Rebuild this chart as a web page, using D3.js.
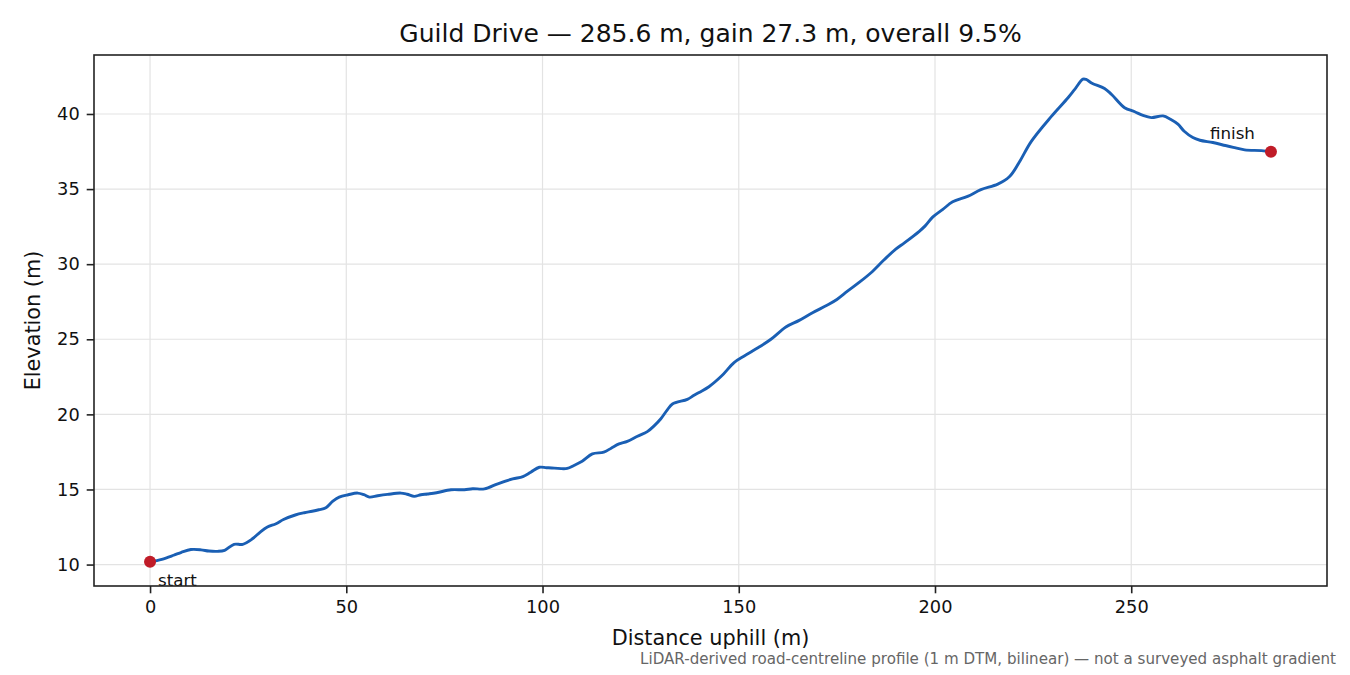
<!DOCTYPE html>
<html>
<head>
<meta charset="utf-8">
<script src="https://cdn.jsdelivr.net/npm/d3@7"></script>
<style>
  body { margin: 0; background: #fff; }
  svg { display: block; font-family: "DejaVu Sans", sans-serif; }
  .grid line { stroke: #e3e3e3; stroke-width: 1.2; }
  .axis path, .axis line { stroke: #222; }
  .axis text { fill: #111; }
</style>
</head>
<body>
<div id="chart"></div>
<script>
// distance along road (m) and elevation (m)
const distance = [
  0, 3, 6, 8, 10.4, 13, 15, 17.2, 19, 21.4, 23.6, 26, 28, 29.9, 32.1, 34, 37, 39.3, 41.3, 43,
  44.8, 46.5, 48.2, 50.5, 52.9, 54.5, 55.9, 58, 60.5, 63.9, 65.5, 67.3, 69, 70.7, 73, 76.7,
  80.1, 82.2, 85.2, 88.6, 92.4, 95, 97, 99.2, 101, 103, 106.3, 108, 110.1, 112.7, 115.6,
  117.5, 119.5, 121.6, 124.2, 126.7, 128.5, 130.1, 131.8, 133.1, 136.9, 138.5, 139.9, 142.4,
  145.6, 148.8, 151.4, 155, 158.2, 162, 165.4, 168.8, 172.6, 175, 177.7, 180.5, 183.7, 187.1,
  190, 192.2, 196, 197.5, 199.4, 202, 204.5, 208.3, 211.7, 216, 219, 221.5, 224.5, 229.6,
  233.9, 235.5, 237.7, 238.5, 240, 243.2, 245, 248.3, 250.9, 253, 255.1, 258.1, 260, 261.9,
  263.5, 265.7, 267.5, 270.8, 274, 276, 278.9, 283.2, 285.6
]
const elevation = [
  10.18, 10.35, 10.62, 10.82, 11.0, 10.98, 10.9, 10.88, 10.95, 11.35, 11.35, 11.7, 12.15, 12.5,
  12.72, 13.0, 13.3, 13.45, 13.55, 13.65, 13.78, 14.2, 14.49, 14.65, 14.76, 14.65, 14.49, 14.58,
  14.67, 14.76, 14.68, 14.54, 14.65, 14.7, 14.78, 14.98, 14.98, 15.05, 15.04, 15.38, 15.7, 15.86,
  16.15, 16.48, 16.45, 16.42, 16.4, 16.6, 16.88, 17.37, 17.48, 17.75, 18.03, 18.2, 18.54, 18.85,
  19.25, 19.69, 20.3, 20.69, 21.0, 21.25, 21.46, 21.84, 22.55, 23.45, 23.89, 24.45, 25.0, 25.82,
  26.26, 26.77, 27.28, 27.65, 28.2, 28.75, 29.43, 30.31, 31.0, 31.42, 32.19, 32.55, 33.13, 33.65,
  34.15, 34.51, 34.96, 35.33, 35.84, 36.8, 38.16, 39.82, 41.08, 41.6, 42.32, 42.3, 42.05, 41.7,
  41.3, 40.42, 40.15, 39.9, 39.76, 39.87, 39.65, 39.32, 38.85, 38.43, 38.25, 38.1, 37.9, 37.78,
  37.61, 37.56, 37.48
]
const xTicks = [0, 50, 100, 150, 200, 250]
const yTicks = [10, 15, 20, 25, 30, 35, 40]
const endLabels = ['start', 'finish']
const title = 'Guild Drive \u2014 285.6 m, gain 27.3 m, overall 9.5%'
const xLabel = 'Distance uphill (m)'
const yLabel = 'Elevation (m)'
const footnote = 'LiDAR-derived road-centreline profile (1 m DTM, bilinear) \u2014 not a surveyed asphalt gradient'

const W = 1350, H = 675,
	margin = { top: 55, right: 23, bottom: 89, left: 94 },
	width = W - margin.left - margin.right,
	height = H - margin.top - margin.bottom,
	data = distance.map((d, i) => [d, elevation[i]])

// matplotlib-style 5% padding on both axes
const xExt = d3.extent(distance), yExt = d3.extent(elevation),
	xPad = (xExt[1] - xExt[0]) * 0.05, yPad = (yExt[1] - yExt[0]) * 0.05

const x = d3.scaleLinear()
	.domain([xExt[0] - xPad, xExt[1] + xPad])
	.range([0, width])
const y = d3.scaleLinear()
	.domain([yExt[0] - yPad, yExt[1] + yPad])
	.range([height, 0])

const svg = d3.select('#chart').append('svg')
	.attr('width', W)
	.attr('height', H)

const g = svg.append('g')
	.attr('transform', 'translate(' + margin.left + ',' + margin.top + ')')

// grid
g.append('g').attr('class', 'grid')
	.selectAll('line.v').data(xTicks).enter().append('line')
	.attr('x1', d => x(d)).attr('x2', d => x(d))
	.attr('y1', 0).attr('y2', height)
g.append('g').attr('class', 'grid')
	.selectAll('line.h').data(yTicks).enter().append('line')
	.attr('x1', 0).attr('x2', width)
	.attr('y1', d => y(d)).attr('y2', d => y(d))

// profile line
g.append('path')
	.datum(data)
	.attr('fill', 'none')
	.attr('stroke', '#1a5fb4')
	.attr('stroke-width', 2.9)
	.attr('stroke-linejoin', 'round')
	.attr('d', d3.line()
		.x(d => x(d[0]))
		.y(d => y(d[1]))
		.curve(d3.curveCatmullRom))

// start / finish markers
const ends = [data[0], data[data.length - 1]]
g.selectAll('.endpt').data(ends).enter().append('circle')
	.attr('class', 'endpt')
	.attr('cx', d => x(d[0]))
	.attr('cy', d => y(d[1]))
	.attr('r', 6)
	.attr('fill', '#c01c28')

g.append('text')
	.text(endLabels[0])
	.attr('x', x(ends[0][0]) + 8)
	.attr('y', y(ends[0][1]) + 24)
	.attr('font-size', '16.7px')
	.attr('fill', '#111')
g.append('text')
	.text(endLabels[1])
	.attr('x', x(ends[1][0]) - 16)
	.attr('y', y(ends[1][1]) - 12.5)
	.attr('text-anchor', 'end')
	.attr('font-size', '16.7px')
	.attr('fill', '#111')

// axes
const xAxis = g.append('g').attr('class', 'axis')
	.attr('transform', 'translate(0,' + height + ')')
	.call(d3.axisBottom(x).tickValues(xTicks).tickSize(7.3).tickPadding(7))
const yAxis = g.append('g').attr('class', 'axis')
	.call(d3.axisLeft(y).tickValues(yTicks).tickSize(7.3).tickPadding(7))
;[xAxis, yAxis].forEach(a => {
	a.select('.domain').remove()
	a.selectAll('line').attr('stroke-width', 1.6)
	a.selectAll('text').attr('font-size', '17.8px').attr('font-family', '"DejaVu Sans", sans-serif')
})

// frame
g.append('rect')
	.attr('width', width).attr('height', height)
	.attr('fill', 'none').attr('stroke', '#222').attr('stroke-width', 1.6)

// labels
svg.append('text')
	.text(title)
	.attr('x', margin.left + width / 2)
	.attr('y', 42)
	.attr('text-anchor', 'middle')
	.attr('font-size', '25px')
	.attr('fill', '#111')

svg.append('text')
	.text(xLabel)
	.attr('x', margin.left + width / 2)
	.attr('y', 645)
	.attr('text-anchor', 'middle')
	.attr('font-size', '20.8px')
	.attr('fill', '#111')

svg.append('text')
	.text(yLabel)
	.attr('transform', 'translate(40,' + (margin.top + height / 2) + ') rotate(-90)')
	.attr('text-anchor', 'middle')
	.attr('font-size', '20.8px')
	.attr('fill', '#111')

svg.append('text')
	.text(footnote)
	.attr('x', 1336)
	.attr('y', 664)
	.attr('text-anchor', 'end')
	.attr('font-size', '15.1px')
	.attr('fill', '#666')
</script>
</body>
</html>
